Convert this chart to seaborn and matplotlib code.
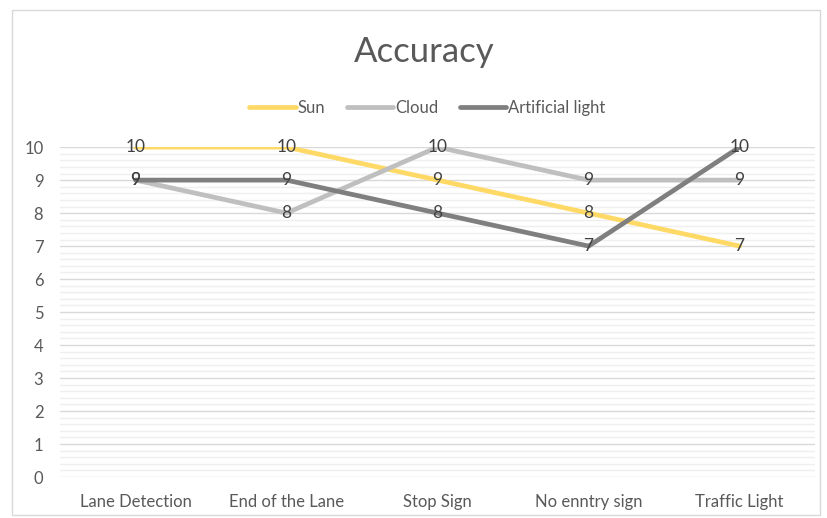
import seaborn as sns
import matplotlib.pyplot as plt
import pandas as pd

# ---------- data ----------
categories = ['Lane Detection', 'End of the Lane', 'Stop Sign', 'No enntry sign', 'Traffic Light']
sun = [10, 10, 9, 8, 7]
cloud = [9, 8, 10, 9, 9]
artificial = [9, 9, 8, 7, 10]

series = {'Sun': sun, 'Cloud': cloud, 'Artificial light': artificial}
colors = {'Sun': '#FFD966', 'Cloud': '#BFBFBF', 'Artificial light': '#7F7F7F'}

rows = []
for name, vals in series.items():
    for i, v in enumerate(vals):
        rows.append({'idx': i, 'Category': categories[i], 'Value': v, 'Series': name})
df = pd.DataFrame(rows)

# ---------- plot ----------
sns.set_style('white')
plt.rcParams['font.family'] = ['Lato', 'DejaVu Sans']

fig = plt.figure(figsize=(8.28, 5.18), dpi=100)
ax = fig.add_axes([0.0725, 0.079, 0.912, 0.637])

# minor / major grid
for y in range(0, 50):
    if y % 5:
        ax.axhline(y / 5, color='#EFEFEF', lw=1.0, zorder=0)
for y in range(0, 11):
    ax.axhline(y, color='#D9D9D9', lw=1.0, zorder=0)

sns.lineplot(data=df, x='idx', y='Value', hue='Series', palette=colors,
             linewidth=3.4, ax=ax, legend=False, zorder=3)

for name, vals in series.items():
    for i, v in enumerate(vals):
        ax.text(i, v, str(v), ha='center', va='center', fontsize=12.5,
                color='#404040', zorder=4)

ax.set_xlim(-0.5, 4.5)
ax.set_ylim(0, 10)
ax.set_xticks(range(len(categories)))
ax.set_xticklabels(categories, fontsize=12, color='#595959')
ax.set_yticks(range(0, 11))
ax.set_yticklabels([str(v) for v in range(0, 11)], fontsize=12, color='#595959')
ax.tick_params(axis='both', length=0)
ax.tick_params(axis='x', pad=12)
ax.tick_params(axis='y', pad=12)
ax.set_xlabel('')
ax.set_ylabel('')
for s in ax.spines.values():
    s.set_visible(False)

fig.text(0.512, 0.9, 'Accuracy', ha='center', va='center', fontsize=25, color='#595959')

handles = [plt.Line2D([0], [0], color=colors[n], lw=3.4, solid_capstyle='round') for n in series]
fig.legend(handles, list(series.keys()), loc='center', bbox_to_anchor=(0.516, 0.792),
           ncol=3, frameon=False, fontsize=12, handlelength=2.8, handletextpad=0.1,
           columnspacing=1.3, labelcolor='#595959')

# chart border
fig.patches.append(plt.Rectangle((0.015, 0.005), 0.975, 0.975, transform=fig.transFigure,
                                 fill=False, edgecolor='#D9D9D9', lw=1))

fig.savefig('out.png', dpi=100)
